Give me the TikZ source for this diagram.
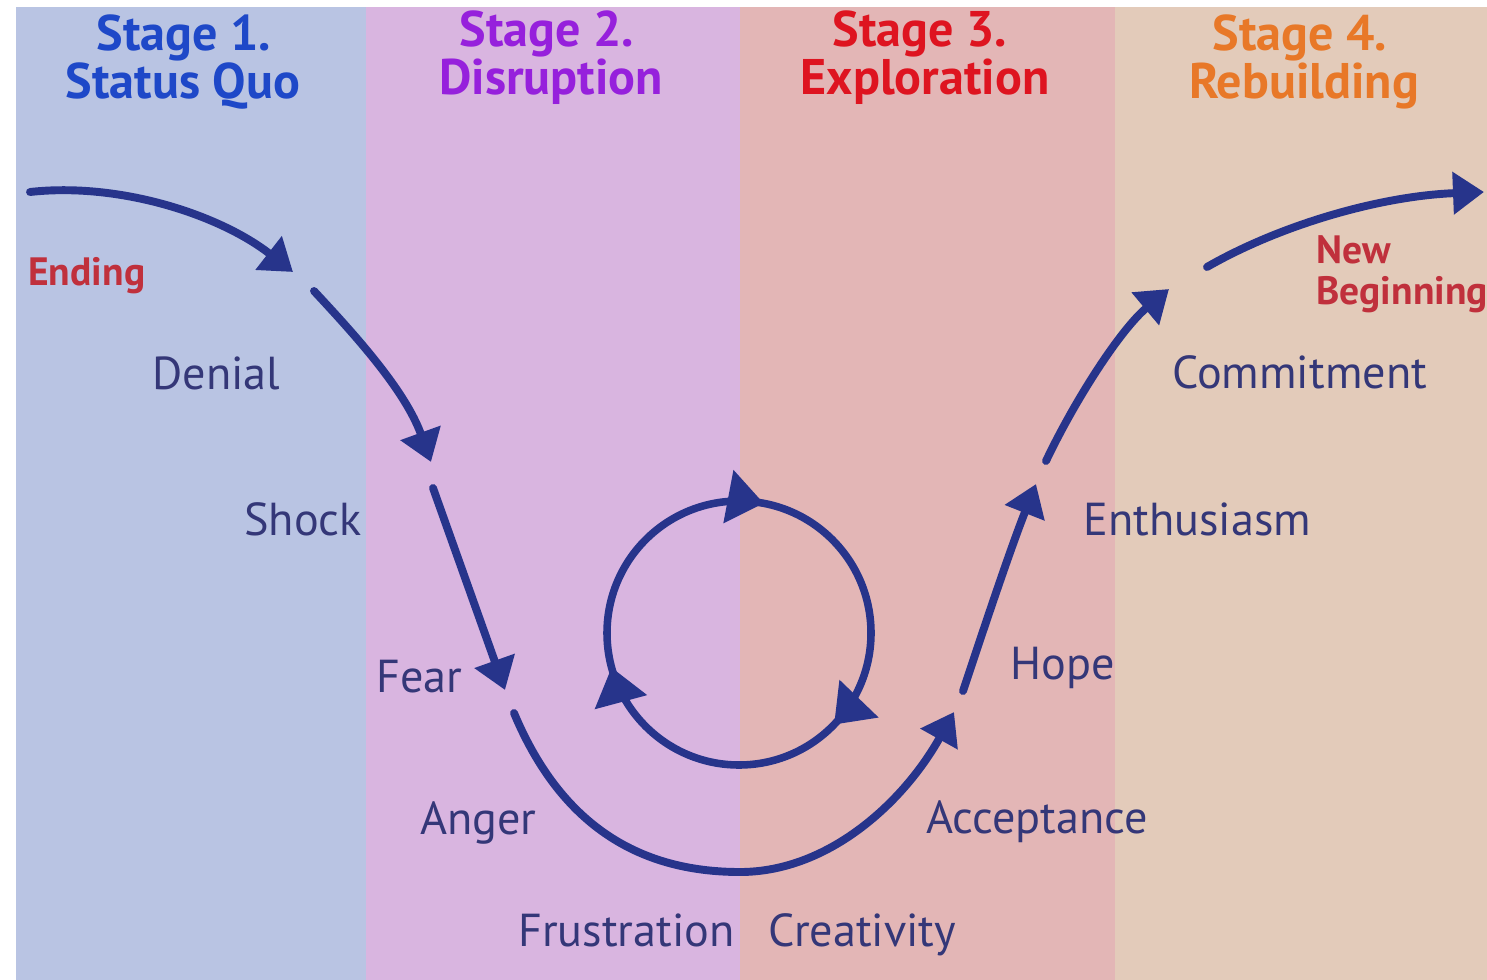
\documentclass[tikz,border=0pt]{standalone}
\usepackage{fontspec}
\setmainfont{PT Sans}
\usetikzlibrary{arrows.meta,decorations.markings}
\definecolor{bandA}{RGB}{185,196,227}
\definecolor{bandB}{RGB}{217,181,224}
\definecolor{bandC}{RGB}{227,182,182}
\definecolor{bandD}{RGB}{227,203,186}
\definecolor{arrowc}{RGB}{39,52,139}
\definecolor{labelc}{RGB}{52,55,120}
\definecolor{redc}{RGB}{192,48,60}
\definecolor{hA}{RGB}{30,72,200}
\definecolor{hB}{RGB}{150,32,220}
\definecolor{hC}{RGB}{222,20,32}
\definecolor{hD}{RGB}{232,120,40}
\begin{document}
\begin{tikzpicture}[x=0.02cm,y=-0.02cm,
  heading/.style={inner sep=0pt, anchor=base, font=\bfseries\fontsize{28.5}{30}\selectfont},
  lbl/.style={inner sep=0pt, anchor=base west, text=labelc, font=\fontsize{26.3}{28}\selectfont},
  redlbl/.style={inner sep=0pt, anchor=base west, text=redc, font=\bfseries\fontsize{22.5}{24}\selectfont},
  flow/.style={draw=arrowc, line width=4.5pt, line cap=round, -{Triangle[length=0.62cm,width=0.82cm]}},
  cycle path/.style={draw=arrowc, line width=4.3pt,
    postaction={decorate},
    decoration={markings,
      mark=at position 0.03 with {\arrow[arrowc]{Triangle[length=0.72cm,width=1.05cm]}},
      mark=at position 0.372 with {\arrow[arrowc]{Triangle[length=0.72cm,width=1.05cm]}},
      mark=at position 0.708 with {\arrow[arrowc]{Triangle[length=0.72cm,width=1.05cm]}}}}
]
\useasboundingbox (0,0) rectangle (1487,980);
\fill[white] (0,0) rectangle (1487,980);
\fill[bandA] (16,7) rectangle (366,980);
\fill[bandB] (366,7) rectangle (740,980);
\fill[bandC] (740,7) rectangle (1115,980);
\fill[bandD] (1115,7) rectangle (1487,980);

% headings
\node[heading, text=hA] (h1a) at (184,51) {Stage 1.};
\node[heading, text=hA] (h1b) at (183,99) {Status Quo};
\node[heading, text=hB] (h2a) at (547,47) {Stage 2.};
\node[heading, text=hB] (h2b) at (551,94) {Disruption};
\node[heading, text=hC] (h3a) at (920,47) {Stage 3.};
\node[heading, text=hC] (h3b) at (925,94) {Exploration};
\node[heading, text=hD] (h4a) at (1300,51) {Stage 4.};
\node[heading, text=hD] (h4b) at (1304,99) {Rebuilding};

% labels
\node[redlbl] (ending) at (28,285) {Ending};
\node[redlbl] (new) at (1316,263) {New};
\node[redlbl] (beginning) at (1316,304) {Beginning};
\node[lbl] (denial) at (152,389) {Denial};
\node[lbl] (shock) at (244,535) {Shock};
\node[lbl] (fear) at (376,692) {Fear};
\node[lbl] (anger) at (420,834) {Anger};
\node[lbl] (frustration) at (518,946) {Frustration};
\node[lbl] (creativity) at (768,946) {Creativity};
\node[lbl] (acceptance) at (926,833) {Acceptance};
\node[lbl] (hope) at (1010,679) {Hope};
\node[lbl] (enthusiasm) at (1083,535) {Enthusiasm};
\node[lbl] (commitment) at (1172,388) {Commitment};

% arrow end points
\coordinate (a1s) at (30,192);
\coordinate (a1e) at (293,272);
\coordinate (a2s) at (314,291);
\coordinate (a2e) at (431,462);
\coordinate (a3s) at (433,488);
\coordinate (a3e) at (505,690);
\coordinate (a4s) at (514,713);
\coordinate (a4m) at (740,872);
\coordinate (a4e) at (954,712);
\coordinate (a5s) at (963,691);
\coordinate (a5e) at (1036,484);
\coordinate (a6s) at (1046,461);
\coordinate (a6e) at (1169,289);
\coordinate (a7s) at (1207,267);
\coordinate (a7e) at (1484,192);

\draw[flow] (a1s) .. controls (120,182) and (220,215) .. (a1e);
\draw[flow] (a2s) .. controls (355,335) and (405,390) .. (a2e);
\draw[flow] (a3s) -- (a3e);
\draw[flow] (a4s) .. controls (565,835) and (650,872) .. (a4m)
  .. controls (830,872) and (905,800) .. (a4e);
\draw[flow] (a5s) .. controls (985,625) and (1010,550) .. (a5e);
\draw[flow] (a6s) .. controls (1075,400) and (1120,330) .. (a6e);
\draw[flow] (a7s) .. controls (1280,225) and (1380,196) .. (a7e);

% cycle
\coordinate (cc) at (739,633);
\draw[cycle path] ([shift={(0,-132)}]cc) arc[start angle=-90, end angle=270, radius=132];
\end{tikzpicture}
\end{document}
